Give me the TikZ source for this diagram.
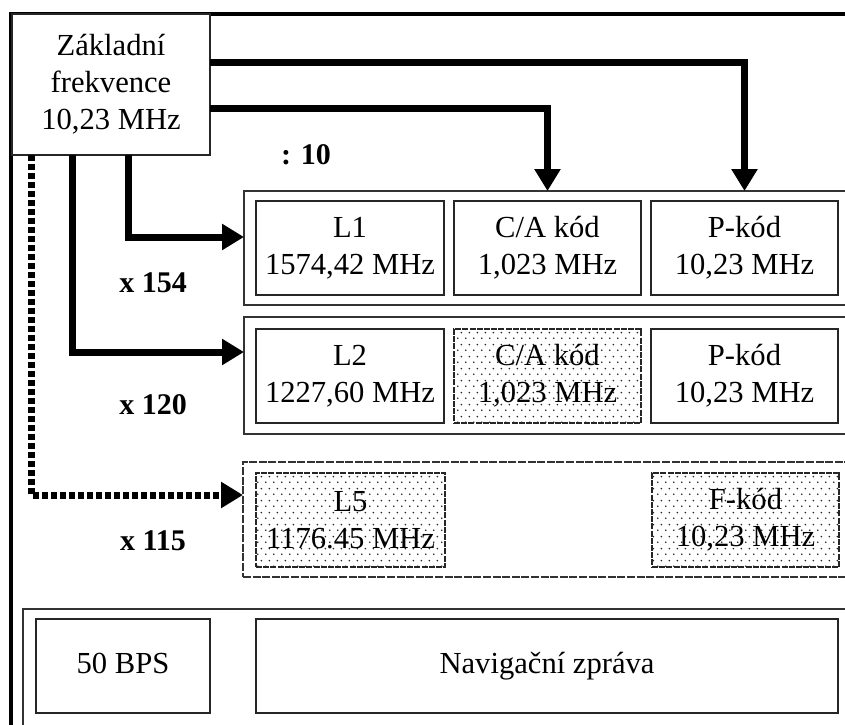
\documentclass[tikz,border=0pt]{standalone}
\usepackage{fontspec}
\setmainfont{Liberation Serif}
\usetikzlibrary{arrows.meta,patterns.meta}
\tikzdeclarepattern{
  name=sparsedots,
  type=uncolored,
  bounding box={(0pt,0pt) and (4pt,6pt)},
  tile size={(4pt,6pt)},
  code={
    \pgfpathcircle{\pgfqpoint{1pt}{1.5pt}}{0.5pt}
    \pgfpathcircle{\pgfqpoint{3pt}{4.5pt}}{0.5pt}
    \pgfusepath{fill}
  }
}
\tikzset{
  outerframe/.style={draw=black, line width=2pt},
  txt/.style={font=\fontsize{15.3}{18.5}\selectfont, align=center},
  freqbox/.style={txt, draw=black!85, line width=0.8pt, fill=white, anchor=north west,
    inner sep=0pt, outer sep=0pt, minimum width=99pt, minimum height=70.5pt},
  grp/.style={draw=black!80, line width=0.8pt, anchor=north west, inner sep=0pt, outer sep=0pt,
    minimum width=330pt, minimum height=57pt},
  dgrp/.style={grp, dash pattern=on 4pt off 0.8pt, line width=0.9pt},
  cell/.style={txt, draw=black!85, line width=0.8pt, anchor=north west, inner sep=0pt,
    outer sep=0pt, minimum width=93.5pt, minimum height=47pt},
  onecell/.style={cell, text height=11pt, text depth=3.5pt},
  dcell/.style={cell, dash pattern=on 3pt off 0.6pt, line width=1pt,
    pattern=sparsedots, pattern color=black!85},
  feed/.style={draw=black, line width=3.5pt, -{Triangle[length=11pt,width=12.5pt]}},
  dfeed/.style={feed, dash pattern=on 3pt off 1.5pt},
  mult/.style={font=\fontsize{15}{18}\selectfont\bfseries},
}

\begin{document}
\begin{tikzpicture}[x=0.5pt, y=-0.5pt]
\useasboundingbox (0,0) rectangle (845,724);
\clip (0,0) rectangle (845,724);

% groups of codes
\node[grp] (g1) at (244,191) {};
\node[grp, minimum height=58.5pt] (g2) at (244,317) {};
\node[dgrp, minimum height=57.5pt] (g3) at (243,462) {};
\node[grp, minimum width=450pt, minimum height=100pt] (g4) at (23,609) {};

% L1
\node[cell, minimum width=94pt] (L1) at (256,201) {L1\\1574,42 MHz};
\node[cell] (CA1) at (454,201) {C/A kód\\1,023 MHz};
\node[cell] (P1) at (651,201) {P-kód\\10,23 MHz};
% L2
\node[cell, minimum width=94pt] (L2) at (256,329) {L2\\1227,60 MHz};
\node[dcell] (CA2) at (454,329) {C/A kód\\1,023 MHz};
\node[cell] (P2) at (651,329) {P-kód\\10,23 MHz};
% L5
\node[dcell, minimum width=94.5pt] (L5) at (256,473) {L5\\1176.45 MHz};
\node[dcell] (F5) at (652,473) {F-kód\\10,23 MHz};
% navigation message
\node[onecell, minimum width=87pt] (bps) at (36,619) {50 BPS};
\node[onecell, minimum width=291pt] (nav) at (256,619) {Navigační zpráva};

% outer frame and base frequency
\draw[outerframe] (11,740) |- (860,14);
\node[freqbox] (base) at (12,14) {Základní\\frekvence\\10,23 MHz};

% multipliers
\node[mult] (d10) at (306,155) {: 10};
\node[mult] (m154) at (153,283) {x 154};
\node[mult] (m120) at (153,405) {x 120};
\node[mult] (m115) at (153,541) {x 115};

% feeds
\draw[feed] ([yshift=11.25pt]base.east) -| (P1.north |- g1.north);
\draw[feed] ([yshift=-11.75pt]base.east) -| (CA1.north |- g1.north);
\draw[feed] ([xshift=8.5pt]base.south) |- ([yshift=5.5pt]g1.west);
\draw[feed] ([xshift=-19.5pt]base.south) |- ([yshift=11.75pt]g2.west);
\draw[dfeed] ([xshift=-40pt]base.south) |- ([yshift=12.25pt]g3.west);
\end{tikzpicture}
\end{document}
